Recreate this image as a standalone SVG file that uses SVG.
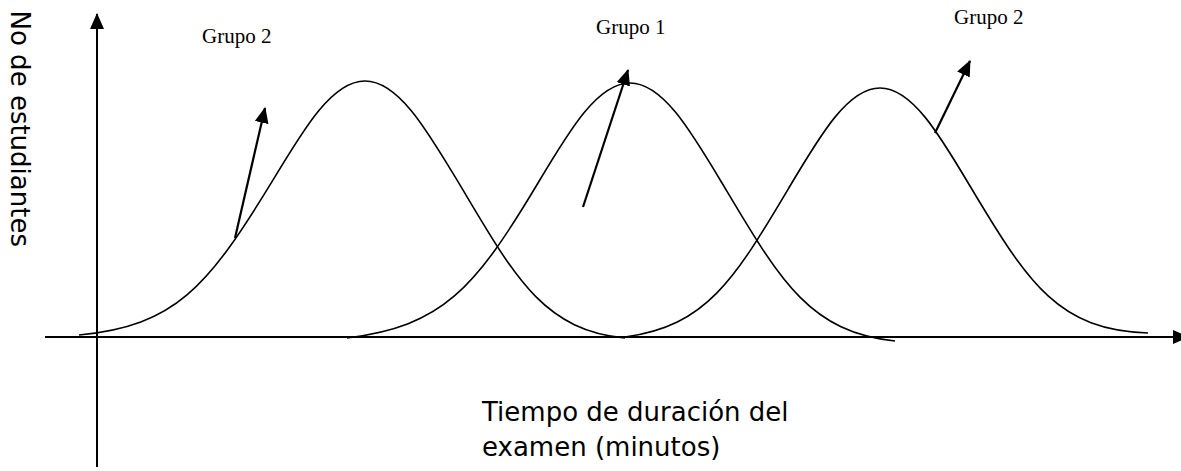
<svg xmlns="http://www.w3.org/2000/svg" width="1181" height="471" viewBox="0 0 1181 471">
<style>
.ax{stroke:#000;stroke-width:2;fill:none}
.cv{stroke:#000;stroke-width:1.6;fill:none}
.ptr{stroke:#000;stroke-width:2.2;fill:none}
.serif{font-family:"Liberation Serif","Times New Roman",serif;font-size:21px;fill:#000}
.sans{font-family:"DejaVu Sans",Verdana,sans-serif;font-size:26px;fill:#000}
</style>
<defs>
<marker id="ah" markerUnits="userSpaceOnUse" markerWidth="18" markerHeight="16" refX="15" refY="7" orient="auto">
<path d="M0,0 L16,7 L0,14 z" fill="#000"/>
</marker>
</defs>
<rect width="1181" height="471" fill="#fff"/>
<g id="axes">
<line class="ax" x1="45" y1="337" x2="1188" y2="337" marker-end="url(#ah)"/>
<line class="ax" x1="97" y1="467" x2="97" y2="14" marker-end="url(#ah)"/>
</g>
<g id="curves">
<path id="curveA" class="cv" d="M79,335 C175.5,325.7 207.7,287 272,181.7 C304.6,127.3 332.4,81 365,81 C397.6,81 425.4,127.3 458,181.7 C513.6,274.5 541.5,330 625,338"/>
<path id="curveB" class="cv" d="M347,338 C442.5,326 474.3,289.6 538,183 C570.2,129 597.8,83 630,83 C662.2,83 689.8,129 722,183 C779.7,279.6 808.5,332 895,341"/>
<path id="curveC" class="cv" d="M625,337 C707.5,326 735,278.3 790,186 C821.5,133 848.5,88 880,88 C911.5,88 938.5,133 970,186 C1029.3,285.5 1059,330 1148,333"/>
</g>
<g id="connectors">
<line class="ptr" x1="235" y1="238" x2="265" y2="108" marker-end="url(#ah)"/>
<line class="ptr" x1="583" y1="207" x2="628" y2="70" marker-end="url(#ah)"/>
<line class="ptr" x1="935" y1="133" x2="970" y2="61" marker-end="url(#ah)"/>
</g>
<g id="label-grupo2-left"><text class="serif" x="202" y="43">Grupo 2</text></g>
<g id="label-grupo1"><text class="serif" x="596" y="34">Grupo 1</text></g>
<g id="label-grupo2-right"><text class="serif" x="954" y="24">Grupo 2</text></g>
<g id="label-y"><text class="sans" transform="translate(11,10.5) rotate(90)">No de estudiantes</text></g>
<g id="label-x">
<text class="sans" x="482" y="421">Tiempo de duración del</text>
<text class="sans" x="482" y="456">examen (minutos)</text>
</g>
</svg>
